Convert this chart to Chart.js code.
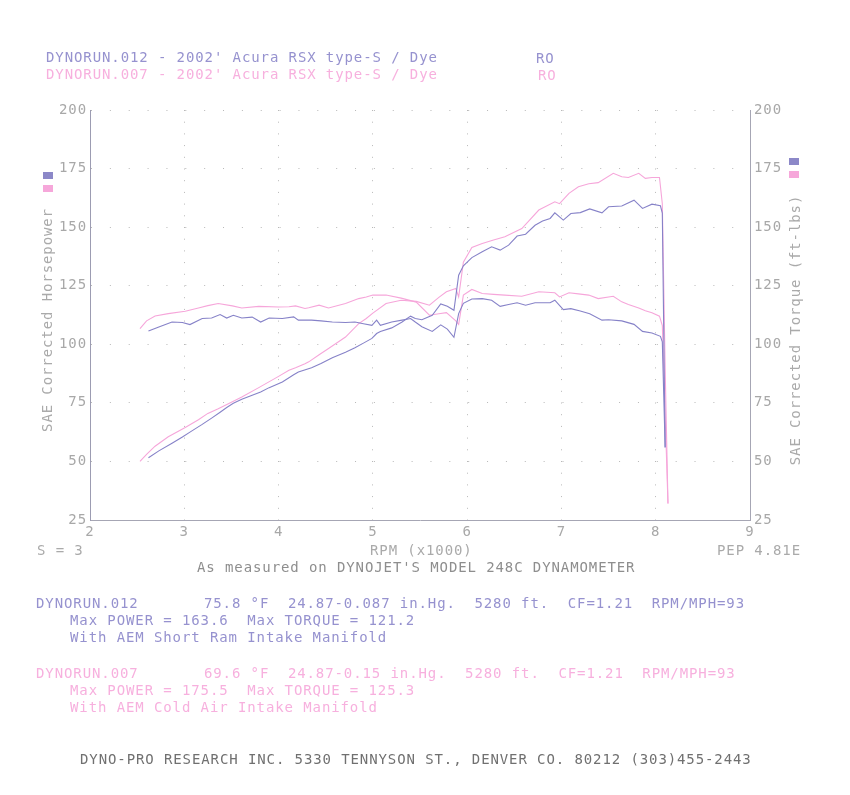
<!DOCTYPE html>
<html>
<head>
<meta charset="utf-8">
<title>Dynojet run comparison</title>
<script src="https://cdn.jsdelivr.net/npm/chart.js@4.4.1/dist/chart.umd.min.js"></script>
<style>
  body { margin: 0; background: #fff; }
  #wrap { position: relative; width: 850px; height: 795px; overflow: hidden;
          font-family: "DejaVu Sans Mono", monospace; font-size: 14px; letter-spacing: 0.9px; }
  #wrap canvas { position: absolute; left: 0; top: 0; }
  .t { position: absolute; line-height: 16px; white-space: pre; }
  .blue { color: #9692cf; }
  .pink { color: #f7b0de; }
  .gray { color: #aaaaaa; }
  .mid { color: #8e8e8e; }
  .dark { color: #707070; }
  .vert { transform: translate(-50%, -50%) rotate(-90deg); }
  .sq { position: absolute; width: 10px; height: 7px; }
</style>
</head>
<body>
<div id="wrap">
  <canvas id="dynoChart" width="850" height="795"></canvas>

  <div class="t blue" style="left:46px; top:49px">DYNORUN.012 - 2002' Acura RSX type-S / Dye</div>
  <div class="t blue" style="left:536px; top:50px">RO</div>
  <div class="t pink" style="left:46px; top:66px">DYNORUN.007 - 2002' Acura RSX type-S / Dye</div>
  <div class="t pink" style="left:538px; top:67px">RO</div>

  <div class="t gray vert" style="left:47px; top:320px">SAE Corrected Horsepower</div>
  <div class="t gray vert" style="left:795px; top:330px">SAE Corrected Torque (ft-lbs)</div>
  <div class="sq" style="left:43px; top:172px; background:#8c88c8"></div>
  <div class="sq" style="left:43px; top:185px; background:#f6a7da"></div>
  <div class="sq" style="left:789px; top:158px; background:#8c88c8"></div>
  <div class="sq" style="left:789px; top:171px; background:#f6a7da"></div>

  <div class="t gray" style="left:37px; top:542px">S = 3</div>
  <div class="t gray" style="left:370px; top:542px">RPM (x1000)</div>
  <div class="t gray" style="left:717px; top:542px">PEP 4.81E</div>
  <div class="t mid" style="left:197px; top:559px">As measured on DYNOJET'S MODEL 248C DYNAMOMETER</div>

  <div class="t blue" style="left:36px; top:595px">DYNORUN.012       75.8 °F  24.87-0.087 in.Hg.  5280 ft.  CF=1.21  RPM/MPH=93</div>
  <div class="t blue" style="left:70px; top:612px">Max POWER = 163.6  Max TORQUE = 121.2</div>
  <div class="t blue" style="left:70px; top:629px">With AEM Short Ram Intake Manifold</div>

  <div class="t pink" style="left:36px; top:665px">DYNORUN.007       69.6 °F  24.87-0.15 in.Hg.  5280 ft.  CF=1.21  RPM/MPH=93</div>
  <div class="t pink" style="left:70px; top:682px">Max POWER = 175.5  Max TORQUE = 125.3</div>
  <div class="t pink" style="left:70px; top:699px">With AEM Cold Air Intake Manifold</div>

  <div class="t dark" style="left:80px; top:751px">DYNO-PRO RESEARCH INC. 5330 TENNYSON ST., DENVER CO. 80212 (303)455-2443</div>
</div>

<script>
// run 012 (blue) - rpm in thousands
const rpm012 = [2.62, 2.73, 2.87, 2.98, 3.06, 3.19, 3.29, 3.38, 3.45, 3.52, 3.61, 3.72, 3.81, 3.9,
  4.04, 4.16, 4.21, 4.35, 4.45, 4.57, 4.71, 4.81, 4.9, 4.99, 5.04, 5.08, 5.2, 5.31, 5.4, 5.45,
  5.52, 5.63, 5.72, 5.79, 5.86, 5.91, 5.96, 6.05, 6.16, 6.26, 6.35, 6.44, 6.53, 6.62, 6.72, 6.8,
  6.88, 6.93, 7.02, 7.1, 7.2, 7.3, 7.43, 7.5, 7.64, 7.77, 7.86, 7.96, 8.05, 8.07, 8.1];
const hp012 = [51.6, 54.5, 57.8, 60.4, 62.5, 65.8, 68.5, 71, 73, 74.8, 76.5, 78.2, 79.6, 81.5,
  83.9, 87, 88.2, 90, 91.8, 94.3, 96.6, 98.5, 100.5, 102.5, 104.6, 105.5, 107, 109.5, 112, 111,
  110.5, 112.4, 117.2, 116.2, 114.5, 129.5, 133.5, 137, 139.5, 141.6, 140.2, 142.3, 146.2, 147, 150.8, 152.6,
  153.7, 156.1, 153, 155.8, 156.2, 157.8, 156.1, 158.7, 159, 161.5, 158, 159.8, 159.1, 156, 56];
const tq012 = [105.7, 107.4, 109.5, 109.3, 108.4, 111, 111.2, 112.7, 111.2, 112.4, 111.2, 111.6, 109.5, 111.2,
  111, 111.7, 110.3, 110.3, 110, 109.5, 109.3, 109.5, 108.8, 108.1, 110.3, 108.1, 109.5, 110.3, 111, 109.5,
  107.5, 105.5, 108.3, 106.5, 103, 113.1, 117.5, 119.3, 119.5, 118.8, 116.2, 117, 117.7, 116.7, 117.7, 117.7,
  117.7, 118.8, 114.8, 115.2, 114.2, 113, 110.3, 110.5, 110, 108.5, 105.5, 104.8, 103.4, 101, 56];

// run 007 (pink)
const rpm007 = [2.53, 2.6, 2.69, 2.83, 3.01, 3.15, 3.25, 3.36, 3.51, 3.61, 3.79, 4.0, 4.11, 4.18,
  4.28, 4.32, 4.43, 4.53, 4.71, 4.85, 4.93, 5.0, 5.14, 5.3, 5.46, 5.6, 5.7, 5.78, 5.88, 5.91,
  5.96, 6.05, 6.16, 6.28, 6.4, 6.58, 6.76, 6.93, 6.98, 7.08, 7.18, 7.29, 7.39, 7.55, 7.64, 7.71,
  7.82, 7.89, 7.96, 8.04, 8.07, 8.1, 8.13];
const hp007 = [50, 53, 56.5, 60.5, 64.5, 67.8, 70.5, 72.5, 75.5, 77.5, 81.5, 86.3, 88.9, 90,
  91.7, 92.5, 95.5, 98.2, 103.1, 108.8, 111, 113.3, 117.4, 118.8, 118.3, 116.7, 120, 122.4, 123.8, 120.2,
  135, 141.3, 143, 144.5, 145.9, 149.4, 157.3, 160.8, 160, 164.4, 167.2, 168.5, 169, 173, 171.5, 171.2,
  173, 170.8, 171.2, 171.2, 160, 90, 32];
const tq007 = [106.7, 110, 112.1, 113.1, 114.1, 115.5, 116.5, 117.4, 116.4, 115.5, 116.2, 115.9, 116, 116.4,
  115.3, 115.6, 116.7, 115.5, 117.4, 119.5, 120.2, 121, 121, 119.7, 118, 112.4, 113, 113.5, 110, 108.5,
  121, 123.4, 121.7, 121.3, 121, 120.5, 122.4, 122, 120.2, 122, 121.5, 121, 119.5, 120.5, 118.1, 117,
  115.5, 114.3, 113.5, 112, 108, 70, 32];

// axis ranges / tick steps
const rpmRange = [2, 9];
const valueRange = [25, 200];
const valueStep = 25;

const blue = '#8682c8';
const pink = '#f6a6da';
const tickFont = { family: 'DejaVu Sans Mono', size: 14 };

function toPoints(xs, ys) {
  return xs.map((x, i) => ({ x: x, y: ys[i] }));
}

function lineSet(label, pts, color) {
  return {
    label: label,
    data: pts,
    borderColor: color,
    borderWidth: 1.1,
    pointRadius: 0,
    tension: 0,
    fill: false
  };
}

var ctx = document.getElementById('dynoChart').getContext('2d');

var dynoChart = new Chart(ctx, {
  type: 'line',
  data: {
    datasets: [
      lineSet('012 power', toPoints(rpm012, hp012), blue),
      lineSet('012 torque', toPoints(rpm012, tq012), blue),
      lineSet('007 power', toPoints(rpm007, hp007), pink),
      lineSet('007 torque', toPoints(rpm007, tq007), pink)
    ]
  },
  options: {
    responsive: false,
    animation: false,
    layout: { padding: { top: 110, left: 0, right: 0, bottom: 0 } },
    plugins: { legend: { display: false }, tooltip: { enabled: false } },
    scales: {
      x: {
        type: 'linear',
        min: rpmRange[0],
        max: rpmRange[1],
        afterFit: s => { s.height = 275; },
        ticks: { stepSize: 1, color: '#a8a8a8', font: tickFont, padding: 4 },
        grid: { color: '#b8b8b8', lineWidth: 1, drawTicks: false },
        border: { display: true, color: '#a6a6b4', width: 1, dash: [1, 10.7] }
      },
      y: {
        position: 'left',
        min: valueRange[0],
        max: valueRange[1],
        afterFit: s => { s.width = 90; },
        ticks: { stepSize: valueStep, color: '#a8a8a8', font: tickFont, padding: 3 },
        grid: { color: '#b8b8b8', lineWidth: 1, drawTicks: false },
        border: { display: true, color: '#9c9cb2', width: 1, dash: [1, 17.86] }
      },
      y2: {
        position: 'right',
        min: valueRange[0],
        max: valueRange[1],
        afterFit: s => { s.width = 100; },
        ticks: { stepSize: valueStep, color: '#a8a8a8', font: tickFont, padding: 4 },
        grid: { drawOnChartArea: false, drawTicks: false },
        border: { display: true, color: '#a6a6b4', width: 1 }
      }
    }
  }
});
</script>
</body>
</html>
